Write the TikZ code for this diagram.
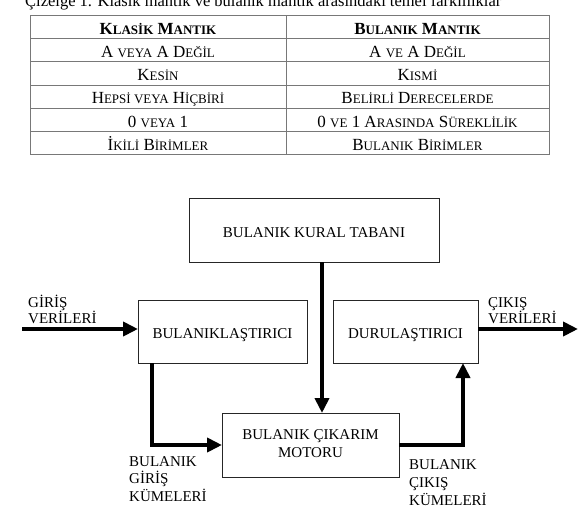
\documentclass[tikz,border=0pt]{standalone}
\usepackage{fontspec}
\setmainfont{Liberation Serif}
\usetikzlibrary{arrows.meta}
\definecolor{tabgray}{RGB}{120,120,120}
\newcommand\smc[1]{{\fontsize{13}{15}\selectfont #1}}
\begin{document}
\begin{tikzpicture}[x=1pt,y=-1pt,
  tabline/.style={draw=tabgray, line width=1pt},
  cell/.style={anchor=base, inner sep=0pt, font=\fontsize{17}{20}\selectfont},
  box/.style={draw=black!85, line width=0.9pt, inner sep=0pt, outer sep=0pt, font=\fontsize{15}{18}\selectfont},
  onebox/.style={box, text height=14pt, text depth=0pt},
  lbl/.style={anchor=base west, inner sep=0pt, font=\fontsize{15}{18}\selectfont},
  flow/.style={line width=4.5pt, -{Triangle[length=15pt,width=14pt]}}]
\useasboundingbox (0,0) rectangle (587,512);
% caption (cut at the top edge, as in the reference)
\node[anchor=base west, inner sep=0pt, font=\fontsize{16.5}{18}\selectfont] (cap) at (25,6)
  {Çizelge 1. Klasik mantık ve bulanık mantık arasındaki temel farklılıklar};
% table
\draw[tabline] (30,15.7) rectangle (549,154.3);
\foreach \y in {38.3,61.7,85,108.3,131.7} \draw[tabline] (30,\y) -- (549,\y);
\draw[tabline] (286,15.7) -- (286,154.3);
\node[cell] (h1) at (158,34.5) {\textbf{K\smc{LASİK} M\smc{ANTIK}}};
\node[cell] (h2) at (417.5,34.5) {\textbf{B\smc{ULANIK} M\smc{ANTIK}}};
\node[cell] (a1) at (158,57.1) {A \smc{VEYA} A D\smc{EĞİL}};
\node[cell] (a2) at (417.5,57.1) {A \smc{VE} A D\smc{EĞİL}};
\node[cell] (b1) at (158,80.5) {K\smc{ESİN}};
\node[cell] (b2) at (417.5,80.5) {K\smc{ISMİ}};
\node[cell] (c1) at (158,103.8) {H\smc{EPSİ VEYA} H\smc{İÇBİRİ}};
\node[cell] (c2) at (417.5,103.8) {B\smc{ELİRLİ} D\smc{ERECELERDE}};
\node[cell] (d1) at (158,127.1) {0 \smc{VEYA} 1};
\node[cell] (d2) at (417.5,127.1) {0 \smc{VE} 1 A\smc{RASINDA} S\smc{ÜREKLİLİK}};
\node[cell] (e1) at (158,150.5) {İ\smc{KİLİ} B\smc{İRİMLER}};
\node[cell] (e2) at (417.5,150.5) {B\smc{ULANIK} B\smc{İRİMLER}};
% diagram boxes
\node[onebox, minimum width=250pt, minimum height=64pt] (kb) at (314,230) {BULANIK KURAL TABANI};
\node[onebox, minimum width=169pt, minimum height=63pt] (fuz) at (222.5,331.5) {BULANIKLAŞTIRICI};
\node[onebox, minimum width=145pt, minimum height=63pt] (def) at (405.5,331.5) {DURULAŞTIRICI};
\node[box, minimum width=177pt, minimum height=64pt, align=center] (mot) at (310.5,445)
  {\raisebox{-3pt}[0pt][0pt]{BULANIK ÇIKARIM}\\\raisebox{-3pt}[0pt][0pt]{MOTORU}};
% connectors
\coordinate (inS) at (22,329);
\coordinate (outE) at (578,329);
\coordinate (vx) at (322,0);
\coordinate (lx) at (152,0);
\coordinate (rx) at (463,0);
\draw[flow] (inS) -- (inS -| fuz.west);
\draw[flow] (outE -| def.east) -- (outE);
\draw[flow] (kb.south -| vx) -- (mot.north -| vx);
\draw[flow] (fuz.south -| lx) |- (mot.west);
\draw[flow] (mot.east) -| (def.south -| rx);
% labels
\node[lbl] (gi1) at (28,307.5) {GİRİŞ};
\node[lbl] (gi2) at (28,323.5) {VERİLERİ};
\node[lbl] (ci1) at (488,307.5) {ÇIKIŞ};
\node[lbl] (ci2) at (488,323.5) {VERİLERİ};
\node[lbl] (bg1) at (129,466.5) {BULANIK};
\node[lbl] (bg2) at (129,483.5) {GİRİŞ};
\node[lbl] (bg3) at (129,501.5) {KÜMELERİ};
\node[lbl] (bc1) at (409,469) {BULANIK};
\node[lbl] (bc2) at (409,487) {ÇIKIŞ};
\node[lbl] (bc3) at (409,505) {KÜMELERİ};
\end{tikzpicture}
\end{document}
